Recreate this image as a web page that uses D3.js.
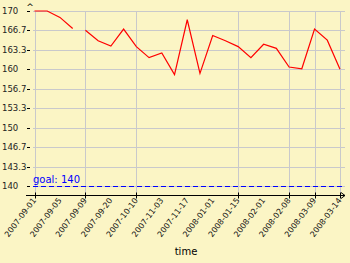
<!DOCTYPE html>
<html>
<head>
<meta charset="utf-8">
<script src="https://cdn.jsdelivr.net/npm/d3@7"></script>
<style>
  body { margin: 0; background: #fbf5c5; }
  svg { display: block; font-family: "DejaVu Sans", Verdana, sans-serif; }
</style>
</head>
<body>
<div id="chart"></div>
<script>
const width = 350, height = 263;

// weight readings, one per point (index along the x axis)
const weights = [170, 170, 168.9, 167.0, 166.7, 164.9, 164.0, 166.9, 163.9, 162.0,
                 162.8, 159.1, 168.5, 159.3, 165.8, 164.9, 163.9, 162.0, 164.3, 163.6,
                 160.4, 160.1, 166.9, 165.0, 160.0];
// line is broken after these indices
const gapAfter = [3];
// labels shown under every second point
const dateLabels = ["2007-09-01", "2007-09-05", "2007-09-09", "2007-09-20", "2007-10-10",
                    "2007-11-03", "2007-11-17", "2008-01-01", "2008-01-15", "2008-02-01",
                    "2008-02-08", "2008-03-09", "2008-03-14"];
const gridIdx = [0, 4, 8, 16, 20, 22, 24];
const yTicks = [170, 166.7, 163.3, 160, 156.7, 153.3, 150, 146.7, 143.3, 140];
const goal = 140;

const svg = d3.select("#chart")
    .append("svg")
    .attr("width", width)
    .attr("height", height);

let xScale = d3.scaleLinear()
    .domain([0, weights.length - 1])
    .range([34.5, 340]);

let yScale = d3.scaleLinear()
    .domain([140, 170])
    .range([186, 11]);

const axisY = 195.5;

// grid
svg.append("g")
    .selectAll("line")
    .data(yTicks)
    .join("line")
    .attr("x1", 33).attr("x2", 345)
    .attr("y1", d => Math.round(yScale(d)) + 0.5)
    .attr("y2", d => Math.round(yScale(d)) + 0.5)
    .attr("stroke", "#c9c9cb");

svg.append("g")
    .selectAll("line")
    .data(gridIdx)
    .join("line")
    .attr("x1", d => Math.round(xScale(d)) + 0.5)
    .attr("x2", d => Math.round(xScale(d)) + 0.5)
    .attr("y1", yScale(170))
    .attr("y2", axisY)
    .attr("stroke", "#c9c9cb");

// y tick labels and ticks
svg.append("g")
    .selectAll("text")
    .data(yTicks)
    .join("text")
    .attr("x", 2)
    .attr("y", d => yScale(d) + 3)
    .attr("font-size", 8.5)
    .attr("fill", "#222")
    .text(d => d);

svg.append("g")
    .selectAll("line")
    .data(yTicks)
    .join("line")
    .attr("x1", 27).attr("x2", 30)
    .attr("y1", d => Math.round(yScale(d)) + 0.5)
    .attr("y2", d => Math.round(yScale(d)) + 0.5)
    .attr("stroke", "#000");

svg.append("text")
    .attr("x", 30)
    .attr("y", 10)
    .attr("text-anchor", "middle")
    .attr("font-size", 9)
    .text("^");

// goal line
svg.append("line")
    .attr("x1", 33).attr("x2", 345)
    .attr("y1", yScale(goal) + 0.5)
    .attr("y2", yScale(goal) + 0.5)
    .attr("stroke", "#0000ff")
    .attr("stroke-dasharray", "5,3");

svg.append("text")
    .attr("x", 33)
    .attr("y", yScale(goal) - 3)
    .attr("font-size", 10)
    .attr("fill", "#0000ff")
    .text("goal: " + goal);

// x axis
svg.append("line")
    .attr("x1", 26).attr("x2", 345)
    .attr("y1", axisY).attr("y2", axisY)
    .attr("stroke", "#000");

svg.append("path")
    .attr("d", `M341,${axisY - 3}L345,${axisY}L341,${axisY + 3}`)
    .attr("fill", "none")
    .attr("stroke", "#000");

svg.append("g")
    .selectAll("line")
    .data(gridIdx)
    .join("line")
    .attr("x1", d => Math.round(xScale(d)) + 0.5)
    .attr("x2", d => Math.round(xScale(d)) + 0.5)
    .attr("y1", axisY - 3)
    .attr("y2", axisY + 3)
    .attr("stroke", "#000");

svg.append("g")
    .selectAll("text")
    .data(dateLabels)
    .join("text")
    .attr("transform", (d, i) => `translate(${xScale(i * 2) + 2},${axisY + 5}) rotate(-53)`)
    .attr("text-anchor", "end")
    .attr("font-size", 8)
    .attr("fill", "#111")
    .text(d => d);

svg.append("text")
    .attr("x", 186)
    .attr("y", 255)
    .attr("text-anchor", "middle")
    .attr("font-size", 10)
    .text("time");

// data line, split where readings are missing
const pts = weights.map((v, i) => ({i: i, v: v}));
let segments = [], cur = [];
pts.forEach(p => {
    cur.push(p);
    if (gapAfter.includes(p.i)) { segments.push(cur); cur = []; }
});
segments.push(cur);

let line = d3.line()
    .x(d => xScale(d.i))
    .y(d => yScale(d.v));

svg.append("g")
    .selectAll("path")
    .data(segments)
    .join("path")
    .attr("fill", "none")
    .attr("stroke", "#ff0000")
    .attr("stroke-width", 1.2)
    .attr("d", line);
</script>
</body>
</html>
